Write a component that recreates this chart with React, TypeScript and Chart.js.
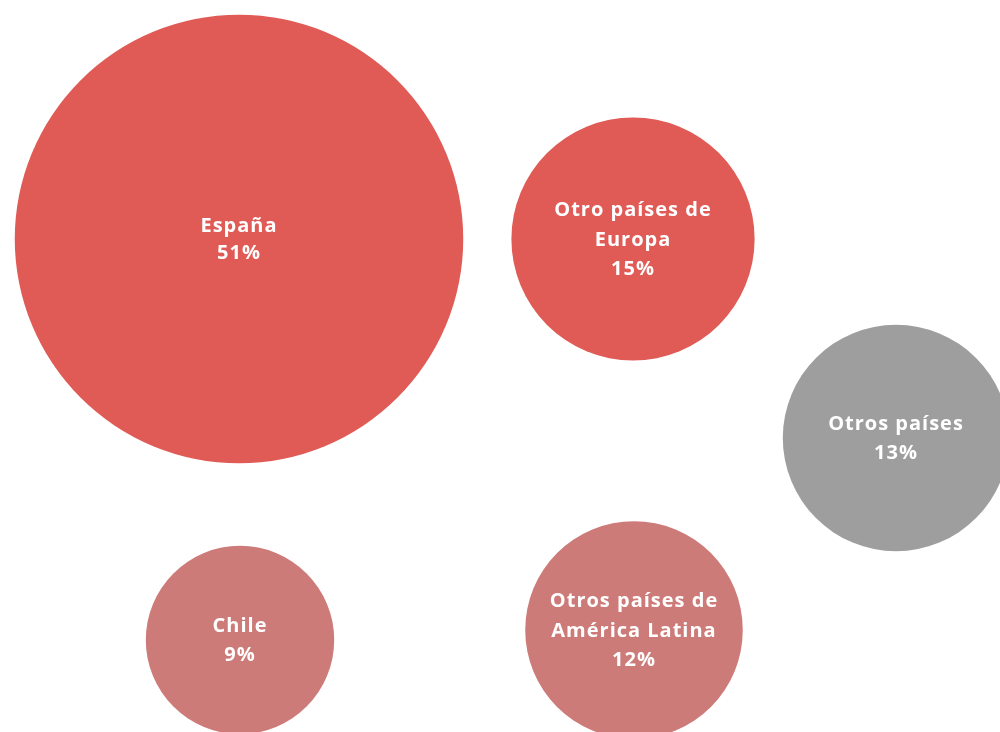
import React, { useEffect, useRef } from "react";
import { Chart, registerables } from "chart.js";

Chart.register(...registerables);

const categories = [
  "España",
  "Otro países de Europa",
  "Otros países",
  "Chile",
  "Otros países de América Latina",
];
const labelLines = [
  ["España"],
  ["Otro países de", "Europa"],
  ["Otros países"],
  ["Chile"],
  ["Otros países de", "América Latina"],
];
const shares = [51, 15, 13, 9, 12];
const xPos = [239, 633, 896, 240, 634];
const yPos = [239, 239, 438, 640, 630];
const colors = ["#E05A56", "#E05A56", "#9E9E9E", "#CD7B79", "#CD7B79"];

const RADIUS_K = 31.4;

const labelPlugin = {
  id: "bubbleLabels",
  afterDatasetsDraw(chart: any) {
    const ctx = chart.ctx;
    const meta = chart.getDatasetMeta(0);
    ctx.save();
    ctx.fillStyle = "#FFFFFF";
    ctx.textAlign = "center";
    ctx.textBaseline = "middle";
    ctx.font = "700 20px 'Open Sans'";
    try {
      (ctx as any).letterSpacing = "1px";
    } catch (e) {}
    meta.data.forEach((el: any, i: number) => {
      const lines = [...labelLines[i], shares[i] + "%"];
      const lh = i === 0 ? 27 : 29.5;
      const start = el.y + 1 - ((lines.length - 1) * lh) / 2;
      lines.forEach((t, j) => ctx.fillText(t, el.x, start + j * lh));
    });
    ctx.restore();
  },
};

export default function App() {
  const ref = useRef<HTMLCanvasElement>(null);
  useEffect(() => {
    document.body.style.margin = "0";
    const chart = new Chart(ref.current as HTMLCanvasElement, {
      type: "bubble",
      data: {
        labels: categories,
        datasets: [
          {
            label: "Distribución",
            data: shares.map((v, i) => ({
              x: xPos[i],
              y: yPos[i],
              r: RADIUS_K * Math.sqrt(v),
            })),
            backgroundColor: colors,
            borderWidth: 0,
            clip: false as any,
          },
        ],
      },
      options: {
        responsive: false,
        animation: false,
        events: [],
        layout: { padding: 0, autoPadding: false } as any,
        plugins: { legend: { display: false }, tooltip: { enabled: false } },
        scales: {
          x: { type: "linear", min: 0, max: 1000, display: false },
          y: { type: "linear", min: 0, max: 732, reverse: true, display: false },
        },
      },
      plugins: [labelPlugin],
    });
    return () => chart.destroy();
  }, []);
  return (
    <div style={{ width: 1000, height: 732, background: "#fff" }}>
      <canvas ref={ref} width={1000} height={732} />
    </div>
  );
}
